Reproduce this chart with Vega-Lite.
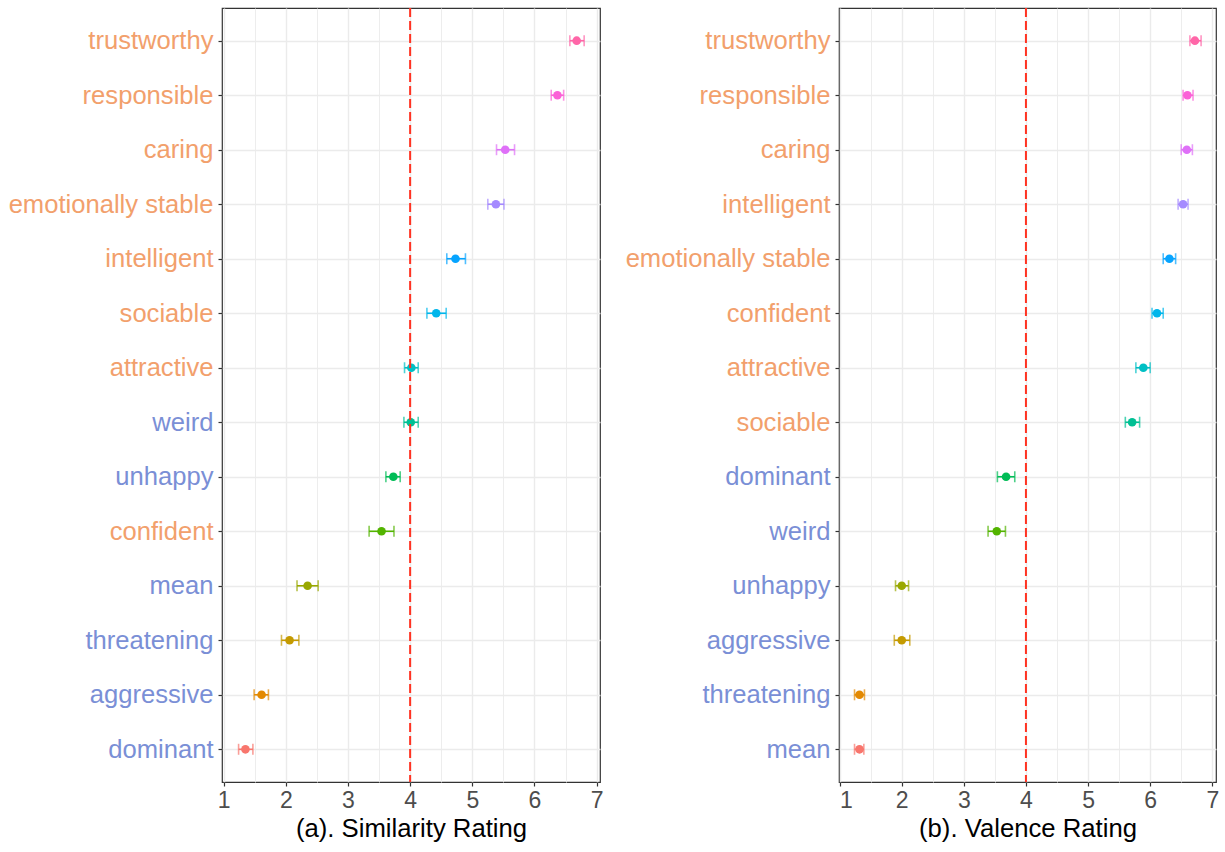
{
  "$schema": "https://vega.github.io/schema/vega-lite/v6.json",
  "padding": {"left": 7, "top": 6, "right": 8, "bottom": 0},
  "background": "white",
  "datasets": {
    "sim": [
      {"trait": "trustworthy", "mean": 6.68, "lo": 6.57, "hi": 6.80},
      {"trait": "responsible", "mean": 6.37, "lo": 6.27, "hi": 6.47},
      {"trait": "caring", "mean": 5.53, "lo": 5.39, "hi": 5.68},
      {"trait": "emotionally stable", "mean": 5.38, "lo": 5.25, "hi": 5.51},
      {"trait": "intelligent", "mean": 4.73, "lo": 4.59, "hi": 4.89},
      {"trait": "sociable", "mean": 4.42, "lo": 4.27, "hi": 4.58},
      {"trait": "attractive", "mean": 4.02, "lo": 3.91, "hi": 4.13},
      {"trait": "weird", "mean": 4.01, "lo": 3.90, "hi": 4.13},
      {"trait": "unhappy", "mean": 3.73, "lo": 3.61, "hi": 3.84},
      {"trait": "confident", "mean": 3.54, "lo": 3.34, "hi": 3.74},
      {"trait": "mean", "mean": 2.35, "lo": 2.18, "hi": 2.52},
      {"trait": "threatening", "mean": 2.06, "lo": 1.93, "hi": 2.21},
      {"trait": "aggressive", "mean": 1.61, "lo": 1.49, "hi": 1.72},
      {"trait": "dominant", "mean": 1.35, "lo": 1.24, "hi": 1.47}
    ],
    "val": [
      {"trait": "trustworthy", "mean": 6.72, "lo": 6.64, "hi": 6.82},
      {"trait": "responsible", "mean": 6.60, "lo": 6.53, "hi": 6.69},
      {"trait": "caring", "mean": 6.59, "lo": 6.50, "hi": 6.68},
      {"trait": "intelligent", "mean": 6.53, "lo": 6.45, "hi": 6.61},
      {"trait": "emotionally stable", "mean": 6.31, "lo": 6.21, "hi": 6.41},
      {"trait": "confident", "mean": 6.11, "lo": 6.03, "hi": 6.21},
      {"trait": "attractive", "mean": 5.89, "lo": 5.77, "hi": 6.00},
      {"trait": "sociable", "mean": 5.71, "lo": 5.60, "hi": 5.83},
      {"trait": "dominant", "mean": 3.68, "lo": 3.54, "hi": 3.82},
      {"trait": "weird", "mean": 3.53, "lo": 3.39, "hi": 3.67},
      {"trait": "unhappy", "mean": 2.00, "lo": 1.90, "hi": 2.11},
      {"trait": "aggressive", "mean": 2.00, "lo": 1.88, "hi": 2.13},
      {"trait": "threatening", "mean": 1.32, "lo": 1.24, "hi": 1.40},
      {"trait": "mean", "mean": 1.32, "lo": 1.24, "hi": 1.39}
    ]
  },
  "config": {
    "font": "Liberation Sans",
    "view": {"stroke": "#333333", "strokeWidth": 1.2},
    "axis": {
      "domain": false,
      "gridColor": "#ebebeb",
      "tickColor": "#333333",
      "tickSize": 4,
      "tickWidth": 1.2,
      "labelFont": "Liberation Sans",
      "titleFont": "Liberation Sans",
      "labelColor": "#4d4d4d",
      "titleColor": "#000000",
      "titleFontWeight": "normal",
      "labelLimit": 400
    },
    "concat": {"spacing": 20}
  },
  "resolve": {"scale": {"color": "independent", "x": "independent", "y": "independent"}},
  "hconcat": [
    {
      "width": 378,
      "height": 774,
      "data": {"name": "sim"},
      "resolve": {"axis": {"x": "independent"}},
      "layer": [
        {
          "mark": {"type": "rule", "strokeWidth": 1.6},
          "encoding": {
            "y": {"field": "trait", "type": "nominal", "sort": ["trustworthy","responsible","caring","emotionally stable","intelligent","sociable","attractive","weird","unhappy","confident","mean","threatening","aggressive","dominant"], "scale": {"type": "point", "padding": 0.6},
              "axis": {"title": null, "labelFontSize": 25.6, "labelPadding": 5, "grid": true, "gridWidth": 1.4,
                "labelColor": {"condition": {"test": "indexof(['weird','unhappy','mean','threatening','aggressive','dominant'], datum.value) >= 0", "value": "#7a8fd6"}, "value": "#f2a06c"}}},
            "x": {"field": "lo", "type": "quantitative", "scale": {"domain": [0.973, 7.055], "nice": false, "zero": false},
              "axis": {"title": "(a). Similarity Rating", "titleFontSize": 25.7, "titlePadding": 4, "labelFontSize": 23, "labelPadding": 3,
                "values": [1,2,3,4,5,6,7], "format": "d", "grid": true, "gridWidth": 1.4}},
            "x2": {"field": "hi"},
            "color": {"field": "trait", "type": "nominal", "legend": null,
              "scale": {"domain": ["dominant","aggressive","threatening","mean","confident","unhappy","weird","attractive","sociable","intelligent","emotionally stable","caring","responsible","trustworthy"],
                "range": ["#F8766D","#E38900","#C49A00","#99A800","#53B400","#00BC56","#00C094","#00BFC4","#00B6EB","#06A4FF","#A58AFF","#DF70F8","#FB61D7","#FF66A8"]}}
          }
        },
        {
          "mark": {"type": "tick", "size": 11, "thickness": 1.6},
          "encoding": {
            "y": {"field": "trait", "type": "nominal", "sort": ["trustworthy","responsible","caring","emotionally stable","intelligent","sociable","attractive","weird","unhappy","confident","mean","threatening","aggressive","dominant"]},
            "x": {"field": "lo", "type": "quantitative", "axis": null},
            "color": {"field": "trait", "type": "nominal", "legend": null}
          }
        },
        {
          "mark": {"type": "tick", "size": 11, "thickness": 1.6},
          "encoding": {
            "y": {"field": "trait", "type": "nominal", "sort": ["trustworthy","responsible","caring","emotionally stable","intelligent","sociable","attractive","weird","unhappy","confident","mean","threatening","aggressive","dominant"]},
            "x": {"field": "hi", "type": "quantitative", "axis": null},
            "color": {"field": "trait", "type": "nominal", "legend": null}
          }
        },
        {
          "mark": {"type": "circle", "size": 75, "opacity": 1},
          "encoding": {
            "y": {"field": "trait", "type": "nominal", "sort": ["trustworthy","responsible","caring","emotionally stable","intelligent","sociable","attractive","weird","unhappy","confident","mean","threatening","aggressive","dominant"]},
            "x": {"field": "mean", "type": "quantitative", "axis": null},
            "color": {"field": "trait", "type": "nominal", "legend": null}
          }
        },
        {
          "data": {"values": [{}]},
          "mark": {"type": "rule", "color": "#ff3322", "strokeWidth": 2, "strokeDash": [9, 4]},
          "encoding": {"x": {"datum": 4, "type": "quantitative",
            "axis": {"orient": "top", "values": [1.5,2.5,3.5,4.5,5.5,6.5], "grid": true, "gridWidth": 0.9, "labels": false, "ticks": false, "domain": false, "title": null}}}
        }
      ]
    },
    {
      "width": 377,
      "height": 774,
      "data": {"name": "val"},
      "resolve": {"axis": {"x": "independent"}},
      "layer": [
        {
          "mark": {"type": "rule", "strokeWidth": 1.6},
          "encoding": {
            "y": {"field": "trait", "type": "nominal", "sort": ["trustworthy","responsible","caring","intelligent","emotionally stable","confident","attractive","sociable","dominant","weird","unhappy","aggressive","threatening","mean"], "scale": {"type": "point", "padding": 0.6},
              "axis": {"title": null, "labelFontSize": 25.6, "labelPadding": 5, "grid": true, "gridWidth": 1.4,
                "labelColor": {"condition": {"test": "indexof(['weird','unhappy','mean','threatening','aggressive','dominant'], datum.value) >= 0", "value": "#7a8fd6"}, "value": "#f2a06c"}}},
            "x": {"field": "lo", "type": "quantitative", "scale": {"domain": [0.99, 7.06], "nice": false, "zero": false},
              "axis": {"title": "(b). Valence Rating", "titleFontSize": 25.7, "titlePadding": 4, "labelFontSize": 23, "labelPadding": 3,
                "values": [1,2,3,4,5,6,7], "format": "d", "grid": true, "gridWidth": 1.4}},
            "x2": {"field": "hi"},
            "color": {"field": "trait", "type": "nominal", "legend": null,
              "scale": {"domain": ["mean","threatening","aggressive","unhappy","weird","dominant","sociable","attractive","confident","emotionally stable","intelligent","caring","responsible","trustworthy"],
                "range": ["#F8766D","#E38900","#C49A00","#99A800","#53B400","#00BC56","#00C094","#00BFC4","#00B6EB","#06A4FF","#A58AFF","#DF70F8","#FB61D7","#FF66A8"]}}
          }
        },
        {
          "mark": {"type": "tick", "size": 11, "thickness": 1.6},
          "encoding": {
            "y": {"field": "trait", "type": "nominal", "sort": ["trustworthy","responsible","caring","intelligent","emotionally stable","confident","attractive","sociable","dominant","weird","unhappy","aggressive","threatening","mean"]},
            "x": {"field": "lo", "type": "quantitative", "axis": null},
            "color": {"field": "trait", "type": "nominal", "legend": null}
          }
        },
        {
          "mark": {"type": "tick", "size": 11, "thickness": 1.6},
          "encoding": {
            "y": {"field": "trait", "type": "nominal", "sort": ["trustworthy","responsible","caring","intelligent","emotionally stable","confident","attractive","sociable","dominant","weird","unhappy","aggressive","threatening","mean"]},
            "x": {"field": "hi", "type": "quantitative", "axis": null},
            "color": {"field": "trait", "type": "nominal", "legend": null}
          }
        },
        {
          "mark": {"type": "circle", "size": 75, "opacity": 1},
          "encoding": {
            "y": {"field": "trait", "type": "nominal", "sort": ["trustworthy","responsible","caring","intelligent","emotionally stable","confident","attractive","sociable","dominant","weird","unhappy","aggressive","threatening","mean"]},
            "x": {"field": "mean", "type": "quantitative", "axis": null},
            "color": {"field": "trait", "type": "nominal", "legend": null}
          }
        },
        {
          "data": {"values": [{}]},
          "mark": {"type": "rule", "color": "#ff3322", "strokeWidth": 2, "strokeDash": [9, 4]},
          "encoding": {"x": {"datum": 4, "type": "quantitative",
            "axis": {"orient": "top", "values": [1.5,2.5,3.5,4.5,5.5,6.5], "grid": true, "gridWidth": 0.9, "labels": false, "ticks": false, "domain": false, "title": null}}}
        }
      ]
    }
  ]
}
